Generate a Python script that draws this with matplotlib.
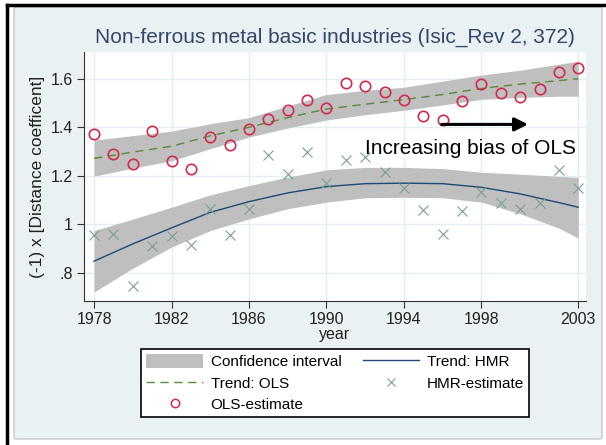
import matplotlib
matplotlib.use("Agg")
import matplotlib.pyplot as plt
from matplotlib.patches import FancyBboxPatch
from matplotlib.lines import Line2D

plt.rcParams['font.family'] = ['Liberation Sans', 'DejaVu Sans']

# yearly estimates
years = list(range(1978, 2004))
ols_est = [1.374, 1.290, 1.251, 1.385, 1.262, 1.227, 1.362, 1.327, 1.393, 1.433,
           1.473, 1.514, 1.481, 1.582, 1.568, 1.545, 1.514, 1.445, 1.432, 1.510,
           1.579, 1.541, 1.526, 1.559, 1.626, 1.646]
hmr_est = [0.958, 0.960, 0.745, 0.912, 0.951, 0.914, 1.064, 0.955, 1.062, 1.285,
           1.208, 1.297, 1.170, 1.267, 1.279, 1.215, 1.149, 1.060, 0.960, 1.056,
           1.134, 1.089, 1.064, 1.089, 1.224, 1.149]

# trends and confidence bands
trend_years = [1978, 1980, 1982, 1984, 1986, 1988, 1990, 1992, 1994, 1996, 1998, 2000, 2002, 2003]
ols_trend = [1.272, 1.298, 1.322, 1.365, 1.400, 1.440, 1.475, 1.495, 1.514, 1.535, 1.560, 1.578, 1.592, 1.600]
ols_lo = [1.199, 1.232, 1.262, 1.312, 1.360, 1.397, 1.430, 1.452, 1.470, 1.492, 1.515, 1.523, 1.528, 1.528]
ols_hi = [1.347, 1.366, 1.384, 1.415, 1.440, 1.488, 1.535, 1.552, 1.565, 1.590, 1.615, 1.635, 1.660, 1.672]
hmr_trend = [0.849, 0.920, 0.986, 1.050, 1.094, 1.130, 1.156, 1.168, 1.170, 1.168, 1.153, 1.126, 1.090, 1.071]
hmr_lo = [0.722, 0.820, 0.907, 0.975, 1.023, 1.065, 1.092, 1.110, 1.112, 1.110, 1.092, 1.044, 0.985, 0.944]
hmr_hi = [0.975, 1.022, 1.071, 1.122, 1.160, 1.195, 1.225, 1.235, 1.235, 1.230, 1.215, 1.207, 1.198, 1.194]

xticks = [1978, 1982, 1986, 1990, 1994, 1998, 2003]
yticks = [0.8, 1.0, 1.2, 1.4, 1.6]
ytick_labels = ['.8', '1', '1.2', '1.4', '1.6']

bg = '#EAF1F3'
band = '#BFBFBF'
red = '#D42A4E'
green = '#5B8A3A'
navy = '#1F4A73'
xcol = '#7E9E92'

fig = plt.figure(figsize=(6.06, 4.45), dpi=100)
fig.patch.set_facecolor('white')

# outer panel and screenshot frame
W, H = 606, 445
panel = FancyBboxPatch((14 / W, 6 / H), 588 / W, 432 / H, boxstyle='round,pad=0,rounding_size=0.004',
                       transform=fig.transFigure, facecolor=bg, edgecolor='#C8C8C8', lw=1, zorder=-5)
fig.patches.append(panel)
fig.lines.append(Line2D([7 / W, 7 / W], [0, 1 - 5 / H], transform=fig.transFigure, color='black', lw=2.5))
fig.lines.append(Line2D([7 / W, 1], [1 - 5 / H, 1 - 5 / H], transform=fig.transFigure, color='black', lw=2.5))

ax = fig.add_axes([84 / W, 1 - 301 / H, 502 / W, 249 / H])
ax.set_facecolor('white')

ax.fill_between(trend_years, ols_lo, ols_hi, color=band, lw=0, zorder=2)
ax.fill_between(trend_years, hmr_lo, hmr_hi, color=band, lw=0, zorder=2)
ax.plot(trend_years, hmr_trend, color=navy, lw=1, zorder=3)
ax.plot(trend_years, ols_trend, color=green, lw=1, dashes=(6, 4), zorder=3)
ax.plot(years, hmr_est, ls='none', marker='x', ms=7, mew=0.8, color=xcol, zorder=4)
ax.plot(years, ols_est, ls='none', marker='o', ms=7.5, mew=1.2, mfc='none', mec=red, zorder=4)

ax.set_xlim(1977.48, 2003.4)
ax.set_ylim(0.685, 1.71)
ax.set_xticks(xticks)
ax.set_yticks(yticks)
ax.set_yticklabels(ytick_labels)
ax.grid(True, color='#E4EEF1', lw=1)
ax.set_axisbelow(True)
for s in ['top', 'right']:
    ax.spines[s].set_visible(False)
for s in ['left', 'bottom']:
    ax.spines[s].set_color('#333333')
ax.tick_params(direction='out', length=5, color='#333333', labelsize=11.5, labelcolor='#222222', pad=3)

ax.set_title('Non-ferrous metal basic industries (Isic_Rev 2, 372)', fontsize=15,
             color='#34476A', pad=7)
ax.set_ylabel('(-1) x [Distance coefficent]', fontsize=12.5, color='#222222', labelpad=4)
ax.set_xlabel('year', fontsize=11.5, color='#222222', labelpad=0)

ax.annotate('', xy=(2000.55, 1.412), xytext=(1995.8, 1.412),
            arrowprops=dict(arrowstyle='-|>', lw=2.2, color='black', mutation_scale=20), zorder=5)
ax.text(1992.0, 1.289, 'Increasing bias of OLS', fontsize=15, color='black', ha='left', va='baseline', zorder=5)

handles = [
    plt.Rectangle((0, 0), 1, 1, color=band, lw=0),
    Line2D([], [], color=green, lw=1, dashes=(6, 4)),
    Line2D([], [], ls='none', marker='o', ms=6, mfc='none', mec=red, mew=1.1),
    Line2D([], [], color=navy, lw=1),
    Line2D([], [], ls='none', marker='x', ms=6, mew=0.8, color=xcol),
]
labels = ['Confidence interval', 'Trend: OLS', 'OLS-estimate', 'Trend: HMR', 'HMR-estimate']
leg = fig.legend(handles, labels, ncol=2, loc='upper left', bbox_to_anchor=(141 / W, 1 - 349 / H),
                 fontsize=11, frameon=True, fancybox=False, edgecolor='black', facecolor='white',
                 framealpha=1, handlelength=3.7, handleheight=1.0, columnspacing=1.4,
                 labelspacing=0.4, borderpad=0.35, handletextpad=0.5, borderaxespad=0)
leg.get_frame().set_linewidth(1.2)

fig.savefig('out.png', dpi=100, facecolor=fig.get_facecolor())
